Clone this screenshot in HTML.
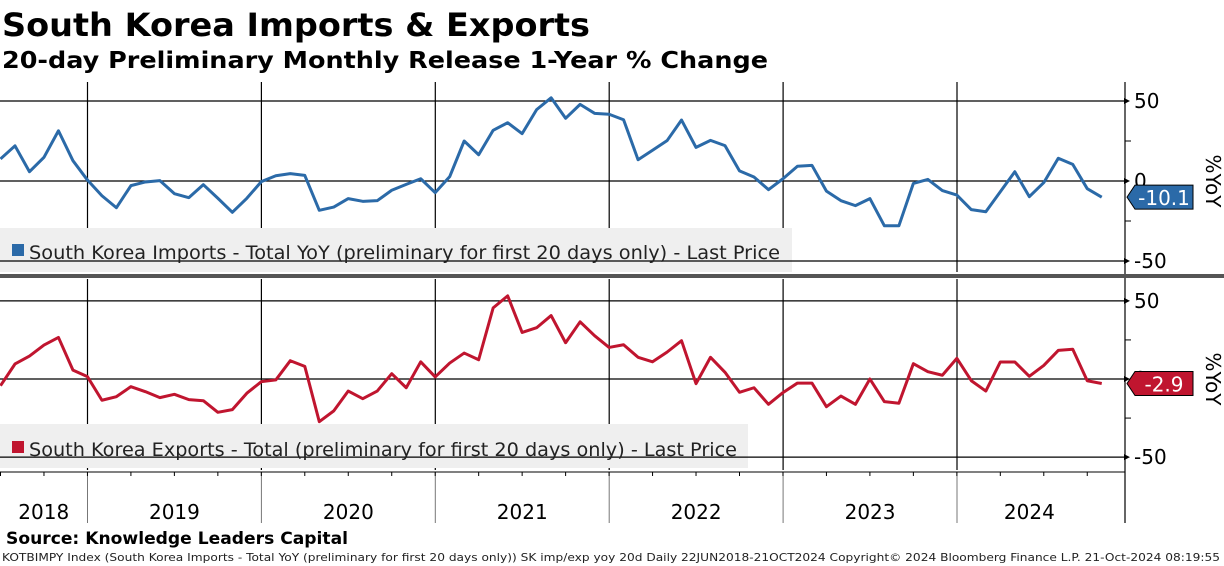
<!DOCTYPE html>
<html><head><meta charset="utf-8"><style>
html,body{margin:0;padding:0;background:#fff;}
svg{display:block;font-family:"DejaVu Sans","Liberation Sans",sans-serif;}
</style></head><body>
<svg id="chart" width="1224" height="566" viewBox="0 0 1224 566" xmlns="http://www.w3.org/2000/svg">
<text x="2" y="36" font-size="32" font-weight="bold" textLength="588" lengthAdjust="spacingAndGlyphs">South Korea Imports &amp; Exports</text>
<text x="2" y="68" font-size="23" font-weight="bold" textLength="766" lengthAdjust="spacingAndGlyphs">20-day Preliminary Monthly Release 1-Year % Change</text>
<g id="grid"></g>
<rect x="0" y="228" width="792" height="44" fill="#efefef"/>
<rect x="0" y="424" width="748" height="44" fill="#efefef"/>
<g id="grid2"></g>
<g id="series"></g>
<rect x="12" y="244" width="12" height="12" fill="#2b6aa8"/>
<text x="29" y="259" font-size="19" fill="#222" textLength="751" lengthAdjust="spacingAndGlyphs">South Korea Imports - Total YoY (preliminary for first 20 days only) - Last Price</text>
<rect x="12" y="441" width="12" height="12" fill="#c0152f"/>
<text x="29" y="456" font-size="19" fill="#222" textLength="708" lengthAdjust="spacingAndGlyphs">South Korea Exports - Total (preliminary for first 20 days only) - Last Price</text>
<rect x="0" y="274" width="1224" height="4" fill="#555"/>
<text x="1206" y="181" font-size="20" text-anchor="middle" transform="rotate(90 1206 181)">%YoY</text>
<text x="1206" y="379" font-size="20" text-anchor="middle" transform="rotate(90 1206 379)">%YoY</text>
<text x="6" y="544" font-size="17" font-weight="bold" textLength="342" lengthAdjust="spacingAndGlyphs">Source: Knowledge Leaders Capital</text>
<text x="2" y="561" font-size="11" fill="#222" textLength="1218" lengthAdjust="spacingAndGlyphs">KOTBIMPY Index (South Korea Imports - Total YoY (preliminary for first 20 days only)) SK imp/exp yoy 20d  Daily 22JUN2018-21OCT2024  Copyright© 2024 Bloomberg Finance L.P.   21-Oct-2024 08:19:55</text>
</svg>
<script>
const imports = [13.8,22,5.8,14.8,31.4,12.7,0.6,-9.2,-16.7,-2.9,-0.6,0.2,-7.9,-10.4,-2.3,-10.8,-19.6,-10.8,-0.4,3.3,4.6,3.5,-18.3,-16.3,-11,-12.7,-12.3,-5.8,-2.1,1.4,-7.3,2.7,25,16.4,31.7,36.4,29.6,44.6,52,39.2,47.9,42.3,41.7,38.3,13.3,19.2,25.2,38.1,21,25.4,22.1,6.3,2.5,-5.4,1.4,9.2,9.8,-6.3,-12.3,-15.4,-11,-28,-28,-1.5,1,-6,-8.8,-17.9,-19.2,-6.7,5.8,-9.8,-1,14.2,10.4,-4.8,-10.1];
const exports_ = [-4.3,9.6,14.7,21.7,26.6,5.7,1.5,-13.6,-11.3,-4.9,-8.1,-11.9,-9.8,-13.2,-13.9,-21.3,-19.6,-9.1,-1.7,-0.6,11.7,8.1,-27.3,-20.4,-7.7,-12.6,-7.7,3.4,-5.6,11,1.3,10.2,16.6,12.3,45.5,53.2,29.8,32.8,40.6,23.2,36.6,27.7,20.2,21.9,13.9,11,17.2,24.5,-3,13.9,4.3,-8.5,-5.6,-16.2,-8.7,-2.6,-2.6,-17.7,-10.9,-16.2,0,-14.5,-15.5,9.8,4.7,2.4,13.2,-1.1,-7.7,10.9,10.9,1.7,8.7,18.3,19,-1.1,-2.9];
const years = ["2018","2019","2020","2021","2022","2023","2024"];
const yTicks = [50,0,-50];
const NS="http://www.w3.org/2000/svg";
function el(tag,attrs,parent){const e=document.createElementNS(NS,tag);for(const k in attrs)e.setAttribute(k,attrs[k]);parent.appendChild(e);return e;}
const xOf = i => 0.5 + i*14.49;
const yearX = k => 87.5 + k*173.9; // start of year k+2019
const yTop = v => 181 - v*1.6;
const yBot = v => 379 - v*1.563;
const grid=document.getElementById('grid'), grid2=document.getElementById('grid2'), ser=document.getElementById('series');
// vertical year lines
for(let k=0;k<6;k++){
  const x=yearX(k);
  const l1=el('line',{x1:x,y1:82,x2:x,y2:272,stroke:'#000','stroke-width':1.2},grid);
  
  
  const l2=el('line',{x1:x,y1:279,x2:x,y2:470,stroke:'#000','stroke-width':1.2},grid);
  
  
  const l3=el('line',{x1:x,y1:472,x2:x,y2:523,stroke:'#777','stroke-width':1},grid);
  
  
}
// horizontal gridlines + ticks
function yAxis(fy,parent,name){
  yTicks.forEach(v=>{
    const y=fy(v);
    const l=el('line',{x1:0,y1:y,x2:1125,y2:y,stroke:'#000','stroke-width':1.2},parent);
    
    
    const a=el('path',{d:`M1124 ${y-3} L1130 ${y} L1124 ${y+3}Z`,fill:'#000'},parent);
    
    
    const t=el('text',{x:1134,y:y+7,'font-size':20},parent);
    t.textContent=String(v);
    
    
  });
  [25,-25].forEach(v=>{
    const y=fy(v);
    const m=el('line',{x1:1125,y1:y,x2:1131,y2:y,stroke:'#000'},parent);
    
    
  });
}
yAxis(yTop,grid2,'top-y-axis');
yAxis(yBot,grid2,'bottom-y-axis');
const ax=el('line',{x1:1125,y1:82,x2:1125,y2:523,stroke:'#000','stroke-width':1.2},grid2);


const xa=el('line',{x1:0,y1:472,x2:1125,y2:472,stroke:'#000','stroke-width':1},grid2);


for(let i=0;i<imports.length;i+=3){
  const t=el('line',{x1:xOf(i),y1:472,x2:xOf(i),y2:476,stroke:'#000'},grid2);
  
  
}
years.forEach((yr,k)=>{
  let cx = k===0 ? (0+yearX(0))/2 : (k<6 ? (yearX(k-1)+yearX(k))/2 : (yearX(5)+xOf(imports.length-1))/2);
  const t=el('text',{x:cx,y:519,'font-size':20,'text-anchor':'middle'},grid2);
  t.textContent=yr;
  
  
});
function series(data,fy,color,name){
  const p=el('polyline',{points:data.map((v,i)=>xOf(i)+','+fy(v)).join(' '),fill:'none',stroke:color,'stroke-width':3,'stroke-linejoin':'round'},ser);
  
  
  const last=data[data.length-1], y=fy(last);
  const g=el('path',{d:`M1127 ${y} L1135 ${y-12} L1193 ${y-12} L1193 ${y+12} L1135 ${y+12}Z`,fill:color,stroke:'#000','stroke-width':1},ser);
  
  
  const t=el('text',{x:1164,y:y+8,'font-size':20,fill:'#fff','text-anchor':'middle'},ser);
  t.textContent=last.toFixed(1);
  
  
}
series(imports,yTop,'#2b6aa8','imports');
series(exports_,yBot,'#c0152f','exports');
</script>
</body></html>
